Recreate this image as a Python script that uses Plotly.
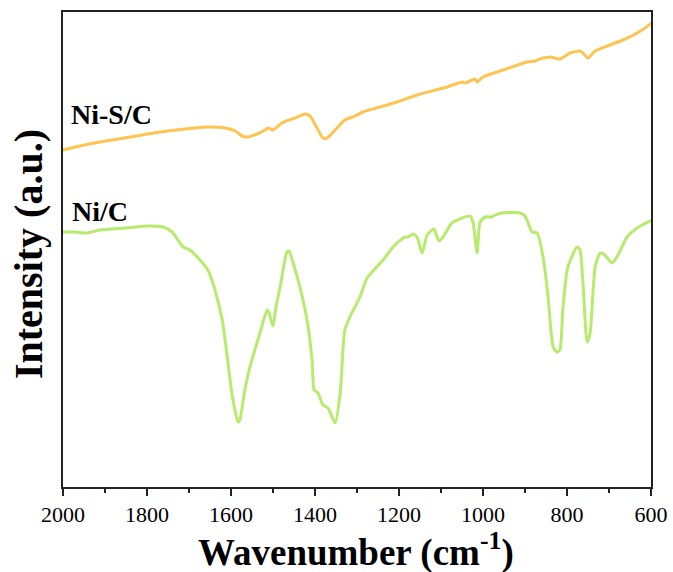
import plotly.graph_objects as go

# FTIR spectra (wavenumber in cm^-1, intensity in arbitrary units)
nisc_wavenumber = [2000, 1960, 1912, 1840, 1769, 1686, 1655, 1614, 1590, 1574, 1560, 1538,
                   1519, 1512, 1500, 1479, 1448, 1424, 1412, 1395, 1381, 1371, 1352, 1329,
                   1305, 1286, 1245, 1205, 1157, 1086, 1050, 1043, 1031, 1019, 1014, 1000,
                   952, 895, 876, 864, 840, 817, 793, 769, 762, 750, 733, 698, 667, 633, 602, 600]
nisc_intensity = [336, 340, 344, 349, 354, 358, 359, 358, 355, 350, 349, 352,
                  356, 358, 356, 363, 368, 372, 370, 358, 348, 348, 356, 366,
                  370, 374, 379, 384, 391, 399, 404, 403, 405, 407, 404, 409,
                  416, 424, 425, 427, 429, 427, 433, 435, 433, 428, 435, 441, 446, 453, 462, 463]

nic_wavenumber = [2000, 1971, 1943, 1912, 1852, 1793, 1762, 1740, 1714, 1698, 1674, 1655,
                  1638, 1621, 1610, 1598, 1588, 1583, 1579, 1567, 1555, 1531, 1514, 1510,
                  1500, 1493, 1483, 1467, 1462, 1452, 1436, 1419, 1407, 1402, 1393, 1381,
                  1369, 1352, 1340, 1329, 1317, 1293, 1276, 1238, 1210, 1186, 1179, 1167,
                  1157, 1145, 1133, 1117, 1105, 1095, 1074, 1031, 1024, 1014, 1007, 995,
                  979, 971, 955, 912, 900, 883, 871, 857, 845, 833, 824, 817,
                  810, 798, 776, 769, 762, 752, 745, 733, 721, 710, 693, 681,
                  657, 633, 602, 600]
nic_intensity = [254, 254, 253, 256, 258, 260, 259, 254, 239, 236, 226, 216,
                 196, 166, 133, 93, 71, 64, 66, 96, 119, 153, 176, 174,
                 160, 179, 199, 234, 235, 223, 199, 166, 126, 96, 93, 81,
                 78, 63, 93, 156, 169, 189, 208, 226, 241, 249, 249, 252,
                 249, 233, 251, 257, 245, 249, 263, 270, 264, 233, 264, 269,
                 269, 271, 273, 273, 270, 254, 253, 229, 189, 139, 134, 136,
                 176, 219, 239, 236, 203, 144, 153, 219, 233, 231, 223, 229,
                 249, 258, 265, 265]

x_ticks = [2000, 1800, 1600, 1400, 1200, 1000, 800, 600]

serif = "Liberation Serif, Times New Roman, serif"

fig = go.Figure()
fig.add_trace(go.Scatter(x=nisc_wavenumber, y=nisc_intensity, mode="lines",
                         line=dict(color="#FFC44F", width=3, shape="spline", smoothing=0.6),
                         name="Ni-S/C", showlegend=False))
fig.add_trace(go.Scatter(x=nic_wavenumber, y=nic_intensity, mode="lines",
                         line=dict(color="#B6EB6B", width=3, shape="spline", smoothing=0.6),
                         name="Ni/C", showlegend=False))

fig.update_layout(
    width=673, height=572,
    margin=dict(l=63, r=22, t=12, b=85),
    paper_bgcolor="white", plot_bgcolor="white",
    font=dict(family=serif, color="black"),
    xaxis=dict(range=[2000, 600], tickvals=x_ticks, ticktext=[str(v) for v in x_ticks],
               automargin=False,
               ticks="outside", ticklen=7, tickwidth=1.5, tickcolor="#222",
               minor=dict(dtick=100, tick0=0, ticks="outside", ticklen=4, tickwidth=1.5, tickcolor="#222"),
               showline=True, linecolor="#222", linewidth=1.5, mirror=True,
               showgrid=False, zeroline=False,
               tickfont=dict(family=serif, size=22, color="black")),
    yaxis=dict(range=[-1, 474], showticklabels=False, ticks="", automargin=False,
               showline=True, linecolor="#222", linewidth=1.5, mirror=True,
               showgrid=False, zeroline=False),
    annotations=[
        dict(text="<b>Ni-S/C</b>", x=0.0102, y=0.785, xref="paper", yref="paper",
             xanchor="left", yanchor="middle", showarrow=False,
             font=dict(family=serif, size=28, color="black")),
        dict(text="<b>Ni/C</b>", x=0.0119, y=0.581, xref="paper", yref="paper",
             xanchor="left", yanchor="middle", showarrow=False,
             font=dict(family=serif, size=28, color="black")),
        dict(text="<b>Wavenumber (cm<sup>-1</sup>)</b>", x=0.498, y=-0.1325,
             xref="paper", yref="paper", xanchor="center", yanchor="middle",
             showarrow=False, font=dict(family=serif, size=37, color="black")),
        dict(text="<b>Intensity (a.u.)</b>", x=-0.0595, y=0.4905,
             xref="paper", yref="paper", xanchor="center", yanchor="middle",
             textangle=-90, showarrow=False,
             font=dict(family=serif, size=40, color="black")),
    ],
)

fig.write_html("out.html")
